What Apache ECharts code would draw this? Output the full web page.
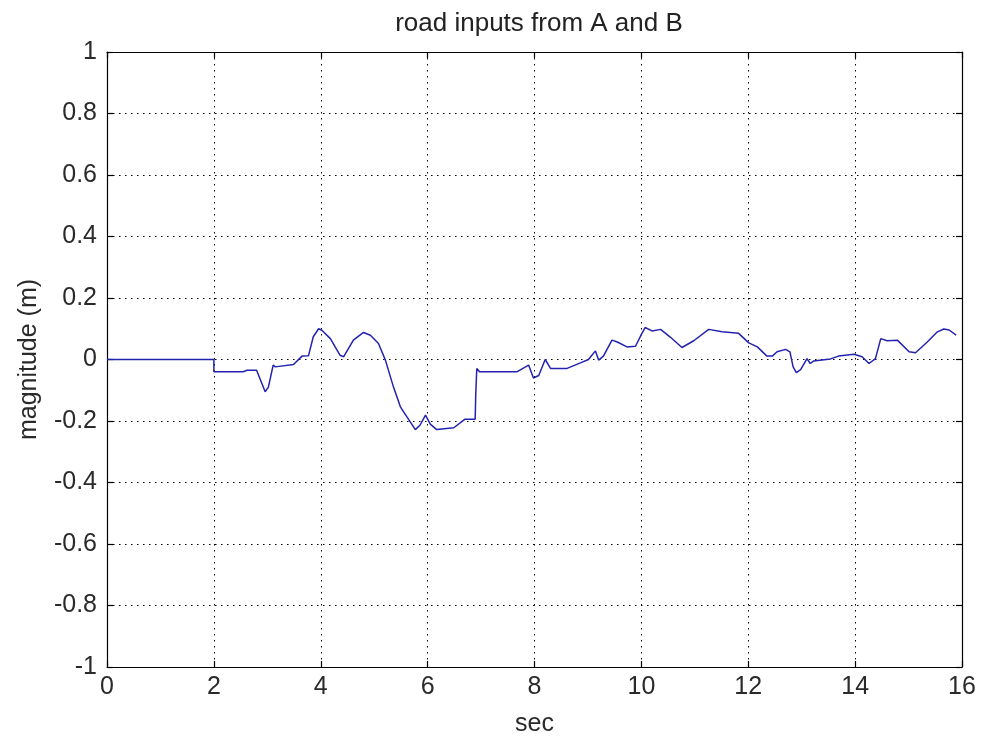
<!DOCTYPE html>
<html>
<head>
<meta charset="utf-8">
<script src="https://cdn.jsdelivr.net/npm/echarts@6/dist/echarts.min.js"></script>
<style>
  html, body { margin: 0; padding: 0; background: #fff; }
  #chart { width: 984px; height: 745px; }
</style>
</head>
<body>
<div id="chart"></div>
<script>
// time (sec) and road input magnitude (m)
const times = [
  0, 2.0, 2.0, 2.55, 2.62, 2.80, 2.88, 2.96, 3.02, 3.11, 3.15, 3.49, 3.65, 3.77,
  3.86, 3.96, 4.02, 4.18, 4.36, 4.43, 4.61, 4.80, 4.93, 5.08, 5.21, 5.36, 5.49,
  5.61, 5.77, 5.86, 5.96, 6.05, 6.17, 6.49, 6.70, 6.89, 6.90, 6.92, 6.97, 7.67,
  7.89, 7.98, 8.08, 8.20, 8.30, 8.61, 8.86, 9.01, 9.14, 9.20, 9.29, 9.45, 9.55,
  9.73, 9.89, 10.01, 10.07, 10.20, 10.36, 10.54, 10.76, 10.98, 11.26, 11.51,
  11.82, 12.01, 12.17, 12.35, 12.45, 12.54, 12.70, 12.78, 12.84, 12.90, 12.98,
  13.10, 13.16, 13.22, 13.54, 13.69, 13.98, 14.13, 14.26, 14.38, 14.48, 14.60,
  14.79, 15.01, 15.13, 15.35, 15.54, 15.66, 15.76, 15.89
];
const magnitude = [
  0, 0, -0.04, -0.04, -0.035, -0.035, -0.07, -0.105, -0.09, -0.018, -0.024, -0.016, 0.011, 0.012,
  0.074, 0.10, 0.095, 0.068, 0.014, 0.009, 0.063, 0.088, 0.079, 0.052, -0.002, -0.089, -0.154,
  -0.186, -0.228, -0.213, -0.181, -0.210, -0.228, -0.222, -0.194, -0.194, -0.116, -0.029, -0.040, -0.040,
  -0.018, -0.060, -0.052, 0.0, -0.029, -0.029, -0.011, 0.0, 0.028, -0.002, 0.011, 0.063, 0.057,
  0.041, 0.043, 0.085, 0.104, 0.093, 0.098, 0.073, 0.039, 0.061, 0.098, 0.090,
  0.085, 0.054, 0.041, 0.011, 0.011, 0.025, 0.033, 0.025, -0.024, -0.043, -0.033,
  0.003, -0.013, -0.005, 0.002, 0.011, 0.017, 0.009, -0.013, 0.003, 0.068, 0.061,
  0.063, 0.025, 0.022, 0.057, 0.090, 0.099, 0.096, 0.079
];
const xTicks = { min: 0, max: 16, interval: 2 };
const yTicks = { min: -1, max: 1, interval: 0.2 };

const font = "Liberation Sans, Arial, sans-serif";
const labelStyle = { color: "#2a2a2a", fontSize: 25, fontFamily: font };
const dotted = { color: "#000", width: 1, type: [1.5, 4.5] };
const frame = { show: true, onZero: false, lineStyle: { color: "#000", width: 1.2 } };
const tick = { show: true, inside: true, length: 6, lineStyle: { color: "#000", width: 1.2 } };

const chart = echarts.init(document.getElementById("chart"));
chart.setOption({
  backgroundColor: "#fff",
  animation: false,
  title: {
    text: "road inputs from A and B",
    left: 534,
    textAlign: "center",
    top: 6,
    textStyle: { color: "#222", fontSize: 26, fontWeight: "normal", fontFamily: font }
  },
  grid: { left: 107, right: 22, top: 52, bottom: 78 },
  xAxis: [
    {
      type: "value", ...xTicks,
      name: "sec", nameLocation: "middle", nameGap: 45,
      nameTextStyle: labelStyle,
      axisLine: frame, axisTick: tick,
      axisLabel: { ...labelStyle, margin: 8 },
      splitLine: { show: true, lineStyle: dotted }
    },
    {
      type: "value", ...xTicks, position: "top",
      axisLine: frame, axisTick: tick,
      axisLabel: { show: false }, splitLine: { show: false }
    }
  ],
  yAxis: [
    {
      type: "value", ...yTicks,
      name: "magnitude (m)", nameLocation: "middle", nameGap: 65,
      nameTextStyle: labelStyle,
      axisLine: frame, axisTick: tick,
      axisLabel: { ...labelStyle, margin: 10 },
      splitLine: { show: true, lineStyle: dotted }
    },
    {
      type: "value", ...yTicks, position: "right",
      axisLine: frame, axisTick: tick,
      axisLabel: { show: false }, splitLine: { show: false }
    }
  ],
  series: [
    {
      type: "line",
      data: times.map((t, i) => [t, magnitude[i]]),
      showSymbol: false,
      lineStyle: { color: "#2323b0", width: 1.5 },
      itemStyle: { color: "#2323b0" }
    }
  ]
});
</script>
</body>
</html>
